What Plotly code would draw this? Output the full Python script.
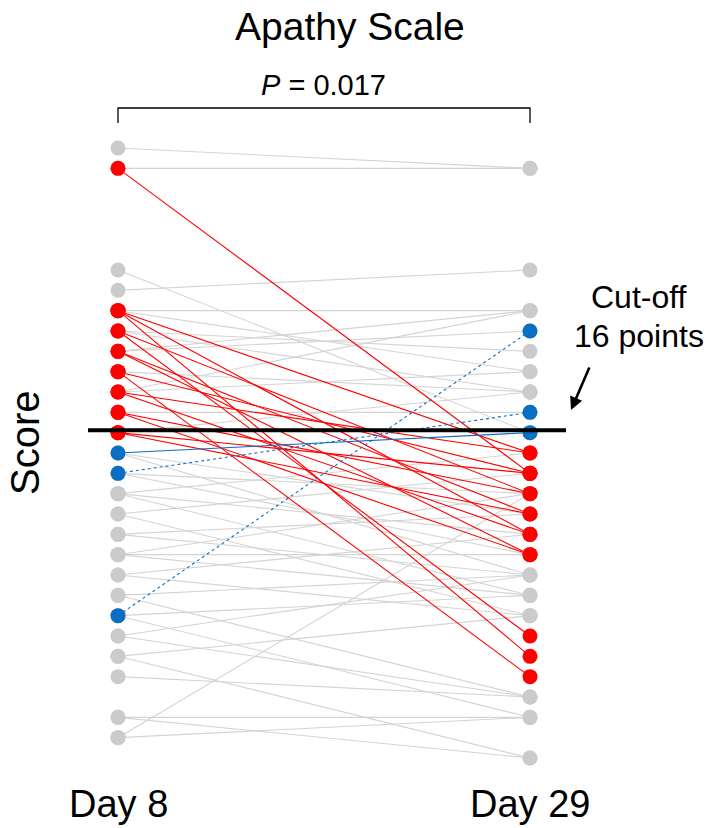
import plotly.graph_objects as go

# ---- data: (Day 8 score, Day 29 score, group) per subject ----
day8 = [30, 29, 24, 23, 22, 22, 21, 21, 20, 20, 19, 18, 18, 17, 16,
        29, 22, 22, 22, 21, 21, 20, 20, 19, 19, 18, 18, 17, 17, 16, 16,
        15, 14, 7,
        15, 15, 14, 14, 13, 13, 13, 12, 12, 11, 11, 10, 10, 10, 9, 9,
        8, 8, 7, 7, 6, 6, 5, 5, 4, 2, 2, 1, 1]
day29 = [29, 29, 16, 24, 22, 19, 20, 18, 22, 21, 18, 22, 19, 17, 18,
         14, 15, 11, 5, 13, 6, 12, 10, 14, 4, 15, 11, 13, 10, 12, 14,
         16, 17, 21,
         12, 9, 13, 10, 15, 11, 8, 14, 7, 9, 12, 10, 8, 13, 7, 11,
         9, 3, 8, 2, 9, 3, 7, 0, 3, 2, 0, 13, 2]
group = (["stay"] * 15 + ["improved"] * 16 + ["worse_solid"] + ["worse_dot"] * 2
         + ["stay"] * 29)

cutoff = 16.12
days = ["Day 8", "Day 29"]

W, H = 709, 828
X0PIX, X1PIX = 118, 530
Y30PIX, Y0PIX = 148, 758
pps = (Y0PIX - Y30PIX) / 30.0
xr = [-X0PIX / (X1PIX - X0PIX), (W - X0PIX) / (X1PIX - X0PIX)]
yr = [0 - (H - Y0PIX) / pps, 30 + Y30PIX / pps]

GRAY_L = "#d4d4d4"
GRAY_M = "#cbcbcb"
RED = "#ff0000"
BLUE = "#0a6fc2"

style = {
    "stay": dict(color=GRAY_L, dash="solid", mcol=GRAY_M),
    "improved": dict(color=RED, dash="solid", mcol=RED),
    "worse_solid": dict(color=BLUE, dash="solid", mcol=BLUE),
    "worse_dot": dict(color=BLUE, dash="dot", mcol=BLUE),
}

fig = go.Figure()
order = ["stay", "improved", "worse_solid", "worse_dot"]
for g in order:
    xs, ys = [], []
    for a, b, gg in zip(day8, day29, group):
        if gg == g:
            xs += [0, 1, None]
            ys += [a, b, None]
    fig.add_trace(go.Scatter(x=xs, y=ys, mode="lines", hoverinfo="skip",
                             line=dict(color=style[g]["color"], width=1.1, dash=style[g]["dash"]),
                             showlegend=False))
for g in order:
    xs, ys = [], []
    for a, b, gg in zip(day8, day29, group):
        if gg == g:
            xs += [0, 1]
            ys += [a, b]
    fig.add_trace(go.Scatter(x=xs, y=ys, mode="markers",
                             marker=dict(color=style[g]["mcol"], size=15, line=dict(width=0)),
                             showlegend=False))

# cut-off line
fig.add_shape(type="line", xref="x", yref="y",
              x0=(88 - X0PIX) / (X1PIX - X0PIX), x1=(566 - X0PIX) / (X1PIX - X0PIX),
              y0=cutoff, y1=cutoff, line=dict(color="black", width=4))


def px(xp):
    return xp / W


def py(yp):
    return 1 - yp / H


# significance bracket
fig.add_shape(type="path", xref="paper", yref="paper",
              path=f"M {px(118)} {py(123)} L {px(118)} {py(108)} L {px(530)} {py(108)} L {px(530)} {py(123)}",
              line=dict(color="black", width=1.3))

FONT = "Liberation Sans, Arial, sans-serif"
ann = []
ann.append(dict(text="Apathy Scale", x=px(350), y=py(26), font=dict(size=39)))
ann.append(dict(text="<i>P</i> = 0.017", x=px(323), y=py(85), font=dict(size=29)))
ann.append(dict(text=days[0], x=px(118), y=py(804), font=dict(size=38)))
ann.append(dict(text=days[1], x=px(530), y=py(804), font=dict(size=38)))
ann.append(dict(text="Score", x=px(25), y=py(443), font=dict(size=40), textangle=-90))
ann.append(dict(text="Cut-off", x=px(639), y=py(297), font=dict(size=32)))
ann.append(dict(text="16 points", x=px(639), y=py(336), font=dict(size=32)))
for a in ann:
    a.update(xref="paper", yref="paper", showarrow=False, xanchor="center", yanchor="middle")
    a["font"].update(family=FONT, color="black")
ann.append(dict(text="", xref="paper", yref="paper", x=px(571), y=py(410),
                ax=19, ay=-44, axref="pixel", ayref="pixel", showarrow=True,
                arrowhead=2, arrowsize=1, arrowwidth=2.6, arrowcolor="black"))

fig.update_layout(
    width=W, height=H, margin=dict(l=0, r=0, t=0, b=0),
    paper_bgcolor="white", plot_bgcolor="white",
    xaxis=dict(range=xr, visible=False, fixedrange=True),
    yaxis=dict(range=yr, visible=False, fixedrange=True),
    annotations=ann,
)
fig.write_html("out.html", config={"displayModeBar": False},
               post_script="document.body.style.margin='0px';")
